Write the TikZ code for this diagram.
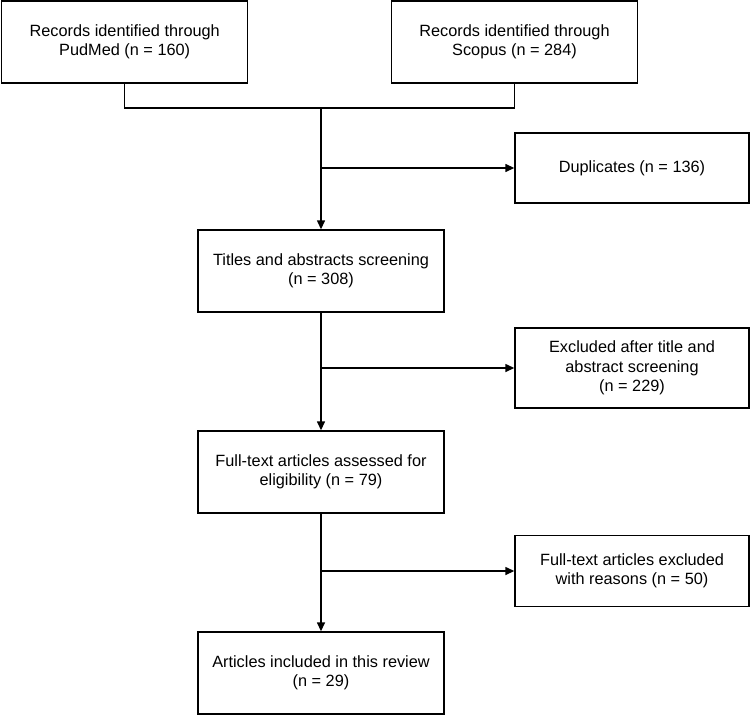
\documentclass[tikz,border=0pt]{standalone}
\usepackage{fontspec}
\setmainfont{Liberation Sans}
\usetikzlibrary{arrows.meta}

\begin{document}
\begin{tikzpicture}
  [x=1pt,y=-1pt,line width=1.4pt,
   every node/.style={draw,rectangle,align=center,inner sep=0pt,
     font=\fontsize{16.3}{19.5}\selectfont},
   mainbox/.style={minimum width=246pt,minimum height=82pt},
   sidebox/.style={minimum width=234pt},
   flow/.style={-{Triangle[length=9pt,width=8pt]}}]
  \useasboundingbox (0,0) rectangle (751,715);

  \node[mainbox] (pub) at (124.7,42) {Records identified through\\PudMed (n = 160)};
  \node[mainbox] (sco) at (514.5,42) {Records identified through\\Scopus (n = 284)};
  \node[sidebox,minimum height=70pt] (dup) at (632,168) {Duplicates (n = 136)};
  \node[mainbox] (tas) at (321,271) {Titles and abstracts screening\\(n = 308)};
  \node[sidebox,minimum height=80pt] (exc1) at (632,368) {Excluded after title and\\abstract screening\\(n = 229)};
  \node[mainbox] (fta) at (321,472) {Full-text articles assessed for\\eligibility (n = 79)};
  \node[sidebox,minimum height=71pt] (exc2) at (632,571) {Full-text articles excluded\\with reasons (n = 50)};
  \node[mainbox] (inc) at (321,673) {Articles included in this review\\(n = 29)};

  % merge of the two sources
  \coordinate (jn) at (321,108);
  \draw (pub.south) |- (jn) -| (sco.south);
  \draw[flow] (jn) -- (tas.north);
  \draw[flow] (tas.south) -- (fta.north);
  \draw[flow] (fta.south) -- (inc.north);

  % side branches
  \foreach \from/\to in {jn/dup,tas/exc1,fta/exc2}
    \draw[flow] (\from |- \to.west) -- (\to.west);

\end{tikzpicture}
\end{document}
